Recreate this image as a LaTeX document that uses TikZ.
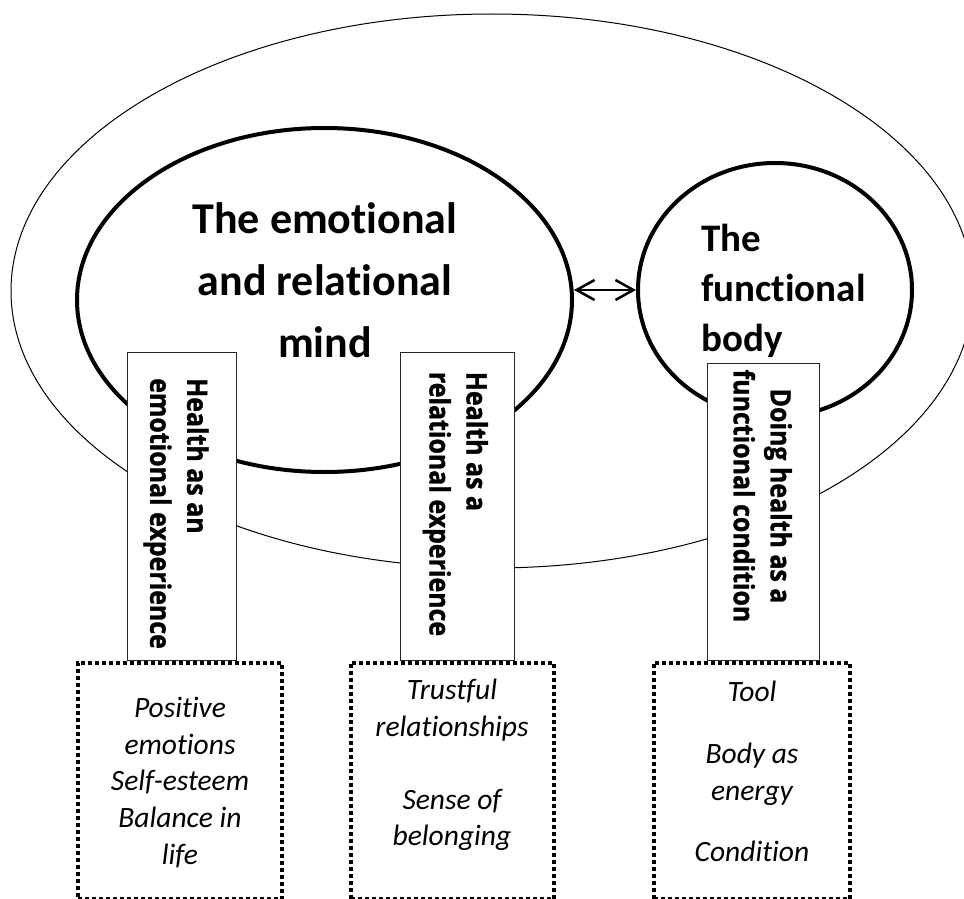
\documentclass[tikz,border=0pt]{standalone}
\usepackage{fontspec}
\setmainfont{Carlito}[Ligatures={NoCommon}]
\newfontfamily\boxfont{Open Sans}[FakeStretch=0.89, BoldFeatures={FakeBold=1.2}]
\usetikzlibrary{shapes.geometric,arrows.meta}
\begin{document}
\begin{tikzpicture}[x=1pt,y=-1pt,
  ring/.style={draw, ellipse, inner sep=0pt},
  dotbox/.style={draw, line width=4pt, dash pattern=on 4pt off 3pt, inner sep=0pt},
  tbox/.style={draw=black!85, fill=white, line width=1pt, inner sep=0pt},
  rtxt/.style={rotate=-90, inner sep=0pt, font=\boxfont\fontsize{28}{37}\selectfont\bfseries},
  itxt/.style={inner sep=0pt, align=center, anchor=north, font=\fontsize{29.5}{36.6}\selectfont\itshape},
  barb/.tip={Straight Barb[length=18pt,width=20pt]}]
\useasboundingbox (0,0) rectangle (964,899);
% ellipses
\node[ring, line width=1pt, minimum width=962pt, minimum height=554pt] (outer) at (492,291) {};
\node[ring, line width=4pt, minimum width=495pt, minimum height=344pt] (mind) at (324.5,300) {};
\node[ring, line width=4pt, minimum width=274pt, minimum height=254pt] (body) at (775,290) {};
\draw[line width=2.5pt, barb-barb] (mind.east |- body.west) -- (body.west);
% titles
\node[inner sep=0pt, anchor=north, align=center, font=\fontsize{44}{62}\selectfont\bfseries] (mindtxt) at (325,202) {The emotional\\and relational\\mind};
\node[inner sep=0pt, anchor=north west, align=left, font=\fontsize{39}{50}\selectfont\bfseries] (bodytxt) at (701,224) {The\\functional\\body};
% dotted boxes
\node[dotbox, minimum width=204pt, minimum height=236.3pt] (d1) at (180,780.85) {};
\node[dotbox, minimum width=203pt, minimum height=236.3pt] (d2) at (452.5,780.85) {};
\node[dotbox, minimum width=196pt, minimum height=236.3pt] (d3) at (751.5,780.85) {};
% text boxes
\node[tbox, minimum width=109pt, minimum height=308pt] (b1) at (181.5,506) {};
\node[tbox, minimum width=114pt, minimum height=308pt] (b2) at (457,506) {};
\node[tbox, minimum width=112pt, minimum height=297pt] (b3) at (763,511.5) {};
\node[rtxt, anchor=west, align=left] (t1) at (176,378) {Health as an\\emotional experience};
\node[rtxt, anchor=west, align=left] (t2) at (455.4,371.7) {Health as a\\relational experience};
\node[rtxt, anchor=center, align=center] (t3) at (762.7,496) {Doing health as a\\functional condition};
% italic lists
\node[itxt] (i1) at (180,697.2) {Positive\\emotions\\Self-esteem\\Balance in\\life};
\node[itxt] (i2) at (452,679.3) {Trustful\\relationships\\[36pt]Sense of\\belonging};
\node[itxt] (i3) at (752,681.2) {Tool\\[25pt]Body as\\energy\\[25pt]Condition};
\end{tikzpicture}
\end{document}
